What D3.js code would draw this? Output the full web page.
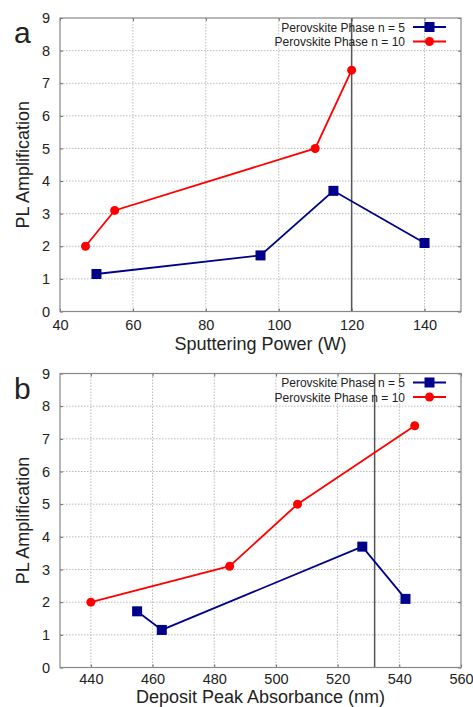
<!DOCTYPE html>
<html>
<head>
	<script src="https://d3js.org/d3.v7.min.js"></script>
	<title></title>
	<style type="text/css">
		body{ margin:0; background:#fff; }
		#chart{ width:473px; height:707px; }
		text{ font-family: "Liberation Sans", Arial, sans-serif; fill:#222; }
		.grid line{ stroke:#bbb; stroke-dasharray:1.5,1.5; stroke-width:1; }
	</style>
</head>
<body>
	<div id="chart"></div>

	<script type="text/javascript">

		// panel a
		var powerBlue = [50, 95, 115, 140];
		var ampBlueA = [1.15, 1.72, 3.7, 2.1];
		var powerRed = [47, 55, 110, 120];
		var ampRedA = [2.0, 3.1, 5.0, 7.4];
		var powerTicks = [40, 60, 80, 100, 120, 140];

		// panel b
		var absBlue = [455, 463, 528, 542];
		var ampBlueB = [1.72, 1.15, 3.7, 2.1];
		var absRed = [440, 485, 507, 545];
		var ampRedB = [2.0, 3.1, 5.0, 7.4];
		var absTicks = [440, 460, 480, 500, 520, 540, 560];

		var yTicks = [0, 1, 2, 3, 4, 5, 6, 7, 8, 9];
		var seriesNames = ["Perovskite Phase n = 5", "Perovskite Phase n = 10"];

		var blue = "#00008b", red = "#ff0000";

		var svg = d3.select("#chart")
		  .append("svg")
		  .attr('width', 473)
		  .attr('height', 707);

		function panel(opt) {
			var left = 60, right = 461, top = opt.top, bottom = opt.bottom;
			var x = d3.scaleLinear().domain(opt.xdom).range([left, right]);
			var y = d3.scaleLinear().domain([0, 9]).range([bottom, top]);
			var g = svg.append('g');

			// grid
			var grid = g.append('g').attr('class', 'grid');
			grid.selectAll('.vx').data(opt.xticks.filter(function(d){ return x(d) > left + 1 && x(d) < right - 1; }))
			  .enter().append('line')
			  .attr('x1', function(d){ return x(d); }).attr('x2', function(d){ return x(d); })
			  .attr('y1', top).attr('y2', bottom);
			grid.selectAll('.hy').data(yTicks.slice(1, -1))
			  .enter().append('line')
			  .attr('y1', function(d){ return y(d); }).attr('y2', function(d){ return y(d); })
			  .attr('x1', left).attr('x2', right);

			// axes, ticks inward and mirrored
			var ax = d3.axisBottom(x).tickValues(opt.xticks).tickSize(-3).tickPadding(opt.tickPad);
			g.append('g').attr('transform', 'translate(0,' + bottom + ')').call(ax)
			  .call(function(s){ s.select('.domain').remove(); s.selectAll('line').attr('stroke', '#666');
			    s.selectAll('text').attr('font-size', 14.5).attr('fill', '#333').attr('font-family', '"Liberation Sans", Arial, sans-serif'); });
			g.append('g').attr('transform', 'translate(0,' + top + ')').call(d3.axisTop(x).tickValues(opt.xticks).tickSize(-3).tickFormat(''))
			  .call(function(s){ s.select('.domain').remove(); s.selectAll('line').attr('stroke', '#666'); });
			var ay = d3.axisLeft(y).tickValues(yTicks).tickSize(-3).tickPadding(10);
			g.append('g').attr('transform', 'translate(' + left + ',0)').call(ay)
			  .call(function(s){ s.select('.domain').remove(); s.selectAll('line').attr('stroke', '#666');
			    s.selectAll('text').attr('font-size', 14.5).attr('fill', '#333').attr('font-family', '"Liberation Sans", Arial, sans-serif'); });
			g.append('g').attr('transform', 'translate(' + right + ',0)').call(d3.axisRight(y).tickValues(yTicks).tickSize(-3).tickFormat(''))
			  .call(function(s){ s.select('.domain').remove(); s.selectAll('line').attr('stroke', '#666'); });

			// vertical marker line
			g.append('line')
			  .attr('x1', x(opt.vline)).attr('x2', x(opt.vline))
			  .attr('y1', top).attr('y2', bottom)
			  .attr('stroke', '#555').attr('stroke-width', 1.5);

			// frame
			g.append('rect').attr('x', left).attr('y', top)
			  .attr('width', right - left).attr('height', bottom - top)
			  .attr('fill', 'none').attr('stroke', '#888').attr('stroke-width', 1.2);

			// series
			var line = d3.line().x(function(d){ return x(d[0]); }).y(function(d){ return y(d[1]); });
			var bluePts = d3.zip(opt.bx, opt.by), redPts = d3.zip(opt.rx, opt.ry);

			g.append('path').datum(bluePts).attr('d', line)
			  .attr('fill', 'none').attr('stroke', blue).attr('stroke-width', 1.8);
			g.selectAll('.sq').data(bluePts).enter().append('rect')
			  .attr('x', function(d){ return x(d[0]) - 5; }).attr('y', function(d){ return y(d[1]) - 5; })
			  .attr('width', 10).attr('height', 10).attr('fill', blue);

			g.append('path').datum(redPts).attr('d', line)
			  .attr('fill', 'none').attr('stroke', red).attr('stroke-width', 1.8);
			g.selectAll('.ci').data(redPts).enter().append('circle')
			  .attr('cx', function(d){ return x(d[0]); }).attr('cy', function(d){ return y(d[1]); })
			  .attr('r', 4.5).attr('fill', red);

			// legend
			var lg = g.append('g');
			[0, 1].forEach(function(i) {
				var ly = top + 9 + i * 14.5;
				lg.append('text').attr('x', 405).attr('y', ly + 4.5)
				  .attr('text-anchor', 'end').attr('font-size', 12).attr('fill', '#222')
				  .text(seriesNames[i]);
				lg.append('line').attr('x1', 413).attr('x2', 446).attr('y1', ly).attr('y2', ly)
				  .attr('stroke', i == 0 ? blue : red).attr('stroke-width', 1.8);
				if (i == 0) {
					lg.append('rect').attr('x', 424.5).attr('y', ly - 5).attr('width', 10).attr('height', 10).attr('fill', blue);
				} else {
					lg.append('circle').attr('cx', 429.5).attr('cy', ly).attr('r', 4.5).attr('fill', red);
				}
			});

			// labels
			g.append('text').attr('x', 14).attr('y', top + 25).attr('font-size', 30).attr('fill', '#111').text(opt.letter);
			g.append('text').attr('transform', 'translate(29,' + ((top + bottom) / 2) + ') rotate(-90)')
			  .attr('text-anchor', 'middle').attr('font-size', 18).attr('fill', '#222').text('PL Amplification');
			g.append('text').attr('x', (left + right) / 2).attr('y', bottom + opt.labelOff)
			  .attr('text-anchor', 'middle').attr('font-size', 18).attr('fill', '#222').text(opt.xlabel);
		}

		panel({ top: 18, bottom: 311.5, xdom: [40, 150], xticks: powerTicks, vline: 120, tickPad: 8, labelOff: 38,
			bx: powerBlue, by: ampBlueA, rx: powerRed, ry: ampRedA, letter: 'a', xlabel: 'Sputtering Power (W)' });

		panel({ top: 373.5, bottom: 667.5, xdom: [430, 560], xticks: absTicks, vline: 532, tickPad: 6, labelOff: 35,
			bx: absBlue, by: ampBlueB, rx: absRed, ry: ampRedB, letter: 'b', xlabel: 'Deposit Peak Absorbance (nm)' });

	</script>
</body>
</html>
